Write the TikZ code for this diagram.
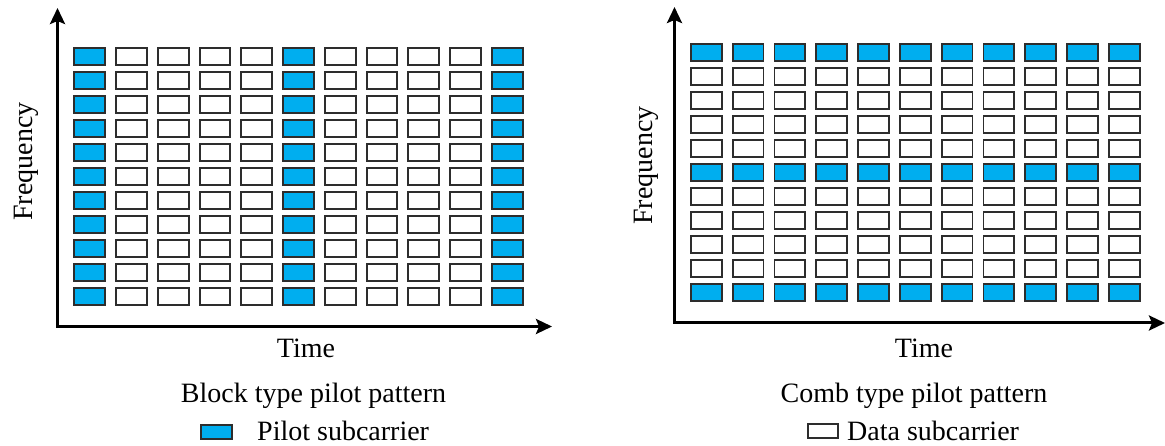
\documentclass[tikz,border=0pt]{standalone}
\usepackage{fontspec}
\setmainfont{Liberation Serif}
\usetikzlibrary{arrows.meta}
\definecolor{pilotblue}{RGB}{0,174,239}
\definecolor{cellline}{RGB}{45,45,45}
\tikzset{
  cell/.style={draw=cellline, line width=1.9pt, minimum width=30.8pt, minimum height=17pt, inner sep=0pt, outer sep=0pt, fill=white},
  pilot/.style={cell, fill=pilotblue},
  axis/.style={line width=3pt, -{Stealth[length=16pt,width=15pt,inset=3pt]}},
  lbl/.style={font=\fontsize{28}{32}\selectfont, inner sep=0pt, anchor=base},
}
\begin{document}
\begin{tikzpicture}[x=1pt,y=-1pt]
\useasboundingbox (0,0) rectangle (1165,446);
% ---- left panel: block type ----
\foreach \i in {0,...,10}{
  \foreach \j in {0,...,10}{
    \pgfmathtruncatemacro{\m}{mod(\i,5)}
    \ifnum\m=0
      \node[pilot] (L-\i-\j) at ({89.7+41.75*\i},{56.7+24*\j}) {};
    \else
      \node[cell] (L-\i-\j) at ({89.7+41.75*\i},{56.7+24*\j}) {};
    \fi
  }
}
\coordinate (LO) at (57.5,326.5);
\coordinate (LY) at (57.5,8);
\coordinate (LX) at (552,326.5);
\draw[axis] ([xshift=-1.5pt]LO) -- (LX);
\draw[axis] ([yshift=1.5pt]LO) -- (LY);
\node[lbl, rotate=90] (LF) at (32,161.5) {Frequency};
\node[lbl] (LT) at (306,357) {Time};
\node[lbl] (LC) at (313.5,402) {Block type pilot pattern};
\node[pilot, minimum width=31pt, minimum height=14pt] (LK) at (216.5,432) {};
\node[lbl, anchor=base west] (LKT) at (257,440) {Pilot subcarrier};
% ---- right panel: comb type ----
\foreach \i in {0,...,10}{
  \foreach \j in {0,...,10}{
    \pgfmathtruncatemacro{\m}{mod(\j,5)}
    \ifnum\m=0
      \node[pilot] (R-\i-\j) at ({706.3+41.8*\i},{52.2+24*\j}) {};
    \else
      \node[cell] (R-\i-\j) at ({706.3+41.8*\i},{52.2+24*\j}) {};
    \fi
  }
}
\coordinate (RO) at (674.5,323);
\coordinate (RY) at (674.5,7);
\coordinate (RX) at (1165,323);
\draw[axis] ([xshift=-1.5pt]RO) -- (RX);
\draw[axis] ([yshift=1.5pt]RO) -- (RY);
\node[lbl, rotate=90] (RF) at (652,165.5) {Frequency};
\node[lbl] (RT) at (924,357) {Time};
\node[lbl] (RC) at (914,402) {Comb type pilot pattern};
\node[cell, minimum width=30pt, minimum height=14pt] (RK) at (823,431) {};
\node[lbl, anchor=base west] (RKT) at (847,440) {Data subcarrier};
\end{tikzpicture}
\end{document}
